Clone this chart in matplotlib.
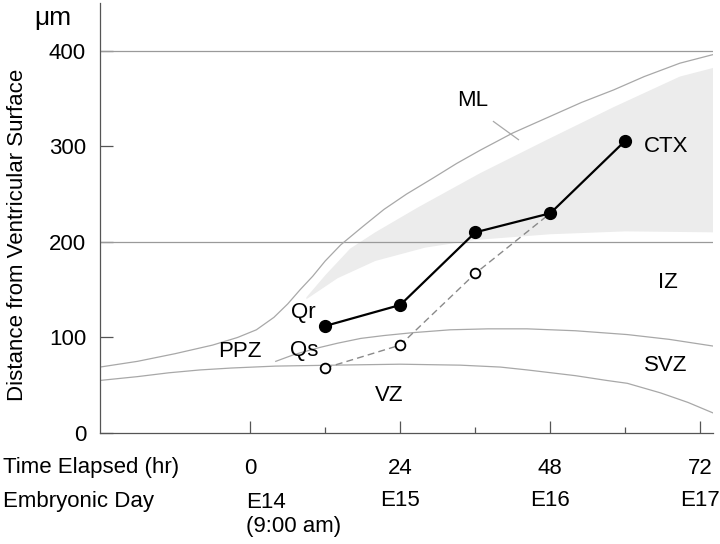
import numpy as np
import matplotlib
matplotlib.use("Agg")
import matplotlib.pyplot as plt
from matplotlib.transforms import blended_transform_factory

# ─────────────────────────────────────────────
# DATA
# ─────────────────────────────────────────────
hours_qr = [12, 24, 36, 48, 60]
dist_qr  = [112, 134, 210, 230, 306]

hours_qs = [12, 24, 36, 48]
dist_qs  = [68, 92, 167, 230]

# outer (pial) boundary
outer_x = [-24, -18, -12, -6, -2, 1, 3.8, 6, 8, 10, 12, 14.5, 18, 21.4,
           25, 29.3, 33, 36.8, 42, 47.5, 53, 58.1, 63, 68.7, 74]
outer_y = [69, 75, 83, 92, 100, 108, 121, 135, 150, 164, 180, 197, 216, 234,
           250, 267, 282, 296, 314, 330, 346, 359, 373, 387, 396]

# CTX shading (top edge, bottom edge)
ctx_top_x = [9, 12, 16, 20, 26.8, 36.8, 47.5, 58.1, 68.7, 74]
ctx_top_y = [142, 165, 193, 210, 236, 272, 307, 341, 373, 382]
ctx_bot_x = [9, 14, 20, 28, 36, 48, 60, 74]
ctx_bot_y = [140, 162, 180, 194, 202, 208, 211, 210]

# SVZ upper boundary
svz_x = [4.1, 7, 10.8, 14, 17.7, 21.4, 26, 32, 38, 44.3, 52, 60.3, 67, 74]
svz_y = [75, 82, 89, 94, 99, 102, 105, 108, 109, 109, 107, 103, 98, 91]

# VZ upper boundary
vz_x = [-24, -18, -13, -8, -3, 4, 13.4, 24, 33.6, 40, 44.3, 52, 57, 60.3,
        65.6, 70, 74]
vz_y = [55, 59, 63, 66, 68, 70, 71, 72, 71, 69, 66, 60, 55, 52,
        42, 32, 21]

hour_ticks   = [0, 24, 48, 72]
minor_ticks  = [12, 36, 60]
day_labels   = ["E14\n(9:00 am)", "E15", "E16", "E17"]

region_labels = ["ML", "CTX", "IZ", "SVZ", "VZ", "PPZ", "Qr", "Qs"]
region_x      = [35.6, 66.5, 66.8, 66.5, 22.2, -1.6, 8.5, 8.7]
region_y      = [348, 300, 157, 71, 39, 85, 126, 86]

# ─────────────────────────────────────────────
# PLOT
# ─────────────────────────────────────────────
plt.rcParams["font.family"] = ["Liberation Sans", "DejaVu Sans"]
FS = 16
FS_REGION = 16
CURVE = "#a8a8a8"

fig = plt.figure(figsize=(7.2, 5.44), dpi=100)
ax = fig.add_axes([100 / 720, 1 - 433 / 544, 613 / 720, 430 / 544])

ax.set_xlim(-24, 74)
ax.set_ylim(0, 450)

# shaded cortex
ax.fill(ctx_top_x + ctx_bot_x[::-1], ctx_top_y + ctx_bot_y[::-1],
        color="#ececec", lw=0, zorder=1)

# reference lines at 200 / 400
for yv in (200, 400):
    ax.axhline(yv, color="#9a9a9a", lw=0.9, zorder=2)

# zone boundaries
for xs, ys in [(outer_x, outer_y), (svz_x, svz_y), (vz_x, vz_y)]:
    ax.plot(xs, ys, color=CURVE, lw=0.9, zorder=2)

# ML pointer
ax.plot([38.9, 42.9], [326, 307], color=CURVE, lw=0.9, zorder=2)

# cell cohorts
ax.plot(hours_qs, dist_qs, color="#8a8a8a", lw=1.0, ls=(0, (5, 3)), zorder=3)
ax.plot(hours_qs[:-1], dist_qs[:-1], ls="none", marker="o", ms=7,
        mfc="white", mec="black", mew=1.3, zorder=4)
ax.plot(hours_qr, dist_qr, color="black", lw=1.6, marker="o", ms=8.5,
        mfc="black", mec="black", zorder=5)

for lab, lx, ly in zip(region_labels, region_x, region_y):
    ax.text(lx, ly, lab, fontsize=FS_REGION, ha="center", va="center", zorder=6)

# axes styling
for side in ("top", "right"):
    ax.spines[side].set_visible(False)
for side in ("left", "bottom"):
    ax.spines[side].set_color("#555555")
    ax.spines[side].set_linewidth(0.9)

ax.set_yticks([0, 100, 200, 300, 400])
ax.tick_params(axis="y", direction="in", length=9, width=0.9, color="#555555",
               labelsize=FS, pad=10)
ax.set_xticks(hour_ticks)
ax.set_xticklabels([str(h) for h in hour_ticks])
ax.set_xticks(minor_ticks, minor=True)
ax.tick_params(axis="x", which="major", direction="in", length=9, width=0.9,
               color="#555555", labelsize=FS, pad=18)
ax.tick_params(axis="x", which="minor", direction="in", length=4, width=0.9,
               color="#555555")

ax.set_ylabel("Distance from Ventricular Surface", fontsize=FS)
ax.yaxis.set_label_coords(-0.118, 0.46)

ax.text(-0.077, 0.965, "μm", transform=ax.transAxes, fontsize=19,
        ha="center", va="center")

# row labels under the axis
trans = blended_transform_factory(ax.transData, ax.transAxes)
fig.text(3 / 720, 1 - 468 / 544, "Time Elapsed (hr)", fontsize=FS,
         ha="left", va="center")
fig.text(3 / 720, 1 - 501 / 544, "Embryonic Day", fontsize=FS,
         ha="left", va="center")
for h, lab in zip(hour_ticks, day_labels):
    if "\n" in lab:
        ax.text(h - 0.7, -0.137, lab, transform=trans, fontsize=FS,
                ha="left", va="top", linespacing=1.2)
    else:
        ax.text(h, -0.158, lab, transform=trans, fontsize=FS,
                ha="center", va="center")

fig.savefig("out.png", dpi=100)
